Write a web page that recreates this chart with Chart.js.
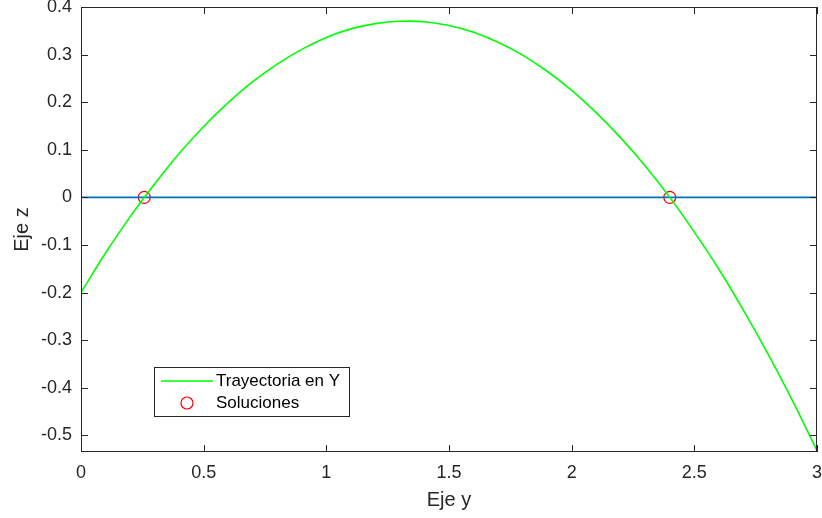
<!DOCTYPE html>
<html>
<head>
<meta charset="utf-8">
<script src="https://cdn.jsdelivr.net/npm/chart.js@4"></script>
<style>
  body { margin: 0; background: #fff; }
  #wrap { width: 822px; height: 518px; }
</style>
</head>
<body>
<div id="wrap"><canvas id="chart"></canvas></div>
<script>
// values
const ejeY = [0, 0.1, 0.2, 0.3, 0.4, 0.5, 0.6, 0.7, 0.8, 0.9, 1.0, 1.1, 1.2, 1.3, 1.4, 1.5,
    1.6, 1.7, 1.8, 1.9, 2.0, 2.1, 2.2, 2.3, 2.4, 2.5, 2.6, 2.7, 2.8, 2.9, 3.0]
const trayectoria = [-0.200, -0.117, -0.041, 0.028, 0.092, 0.149, 0.199, 0.243, 0.280, 0.311, 0.336,
    0.354, 0.365, 0.370, 0.369, 0.361, 0.347, 0.326, 0.299, 0.265, 0.225, 0.178, 0.125, 0.066,
    0.000, -0.073, -0.151, -0.237, -0.329, -0.427, -0.532]
const solY = [0.258, 2.40]
const solZ = [0, 0]
const cero = [[0, 0], [3, 0]]
const xTicks = [0, 0.5, 1, 1.5, 2, 2.5, 3]
const yTicks = [-0.5, -0.4, -0.3, -0.2, -0.1, 0, 0.1, 0.2, 0.3, 0.4]

const ctx = document.getElementById('chart').getContext('2d')

Chart.defaults.font.family = '"Liberation Sans", Arial, sans-serif'
Chart.defaults.font.size = 18
Chart.defaults.color = '#262626'

const axisColor = '#262626'

// box, inward ticks on all four sides, legend drawn in the corner
const matlabBox = {
    id: 'matlabBox',
    afterDatasetsDraw(chart) {
        const { ctx, chartArea: a, scales } = chart
        ctx.save()
        ctx.strokeStyle = axisColor
        ctx.lineWidth = 1
        ctx.strokeRect(a.left + 0.5, a.top + 0.5, a.right - a.left - 1, a.bottom - a.top - 1)
        const len = 7
        ctx.beginPath()
        for (const v of xTicks) {
            const px = Math.round(scales.x.getPixelForValue(v)) + 0.5
            ctx.moveTo(px, a.bottom); ctx.lineTo(px, a.bottom - len)
            ctx.moveTo(px, a.top); ctx.lineTo(px, a.top + len)
        }
        for (const v of yTicks) {
            const py = Math.round(scales.y.getPixelForValue(v)) + 0.5
            ctx.moveTo(a.left, py); ctx.lineTo(a.left + len, py)
            ctx.moveTo(a.right, py); ctx.lineTo(a.right - len, py)
        }
        ctx.stroke()

        // legend
        const lx = a.left + 73, ly = a.top + 360, lw = 195, lh = 49
        ctx.fillStyle = '#fff'
        ctx.fillRect(lx, ly, lw, lh)
        ctx.strokeStyle = axisColor
        ctx.strokeRect(lx + 0.5, ly + 0.5, lw, lh)
        ctx.strokeStyle = '#00ff00'
        ctx.lineWidth = 1.6
        ctx.beginPath()
        ctx.moveTo(lx + 7, ly + 14); ctx.lineTo(lx + 59, ly + 14)
        ctx.stroke()
        ctx.strokeStyle = '#ff0000'
        ctx.lineWidth = 1.2
        ctx.beginPath()
        ctx.arc(lx + 33, ly + 36, 6, 0, Math.PI * 2)
        ctx.stroke()
        ctx.fillStyle = '#000'
        ctx.font = '17px "Liberation Sans", Arial, sans-serif'
        ctx.textBaseline = 'middle'
        ctx.fillText('Trayectoria en Y', lx + 62, ly + 14)
        ctx.fillText('Soluciones', lx + 62, ly + 36)
        ctx.restore()
    }
}

const chart = new Chart(ctx, {
    type: 'scatter',
    data: {
        datasets: [{
            label: 'Trayectoria en Y',
            type: 'line',
            data: ejeY.map((y, i) => ({ x: y, y: trayectoria[i] })),
            borderColor: '#00ff00',
            borderWidth: 1.6,
            pointRadius: 0,
            tension: 0.3,
            fill: false,
        }, {
            label: 'cero',
            type: 'line',
            data: cero.map(p => ({ x: p[0], y: p[1] })),
            borderColor: '#0072bd',
            borderWidth: 1.6,
            pointRadius: 0,
            fill: false,
        }, {
            label: 'Soluciones',
            data: solY.map((y, i) => ({ x: y, y: solZ[i] })),
            borderColor: '#ff0000',
            backgroundColor: 'rgba(0,0,0,0)',
            borderWidth: 1.2,
            pointRadius: 6,
            pointStyle: 'circle',
        }]
    },
    options: {
        responsive: true,
        maintainAspectRatio: false,
        animation: false,
        events: [],
        layout: { autoPadding: false, padding: { top: 7, right: 5, left: 0, bottom: 0 } },
        plugins: { legend: { display: false }, tooltip: { enabled: false } },
        scales: {
            x: {
                type: 'linear',
                min: 0,
                max: 3,
                afterBuildTicks: s => { s.ticks = xTicks.map(v => ({ value: v })) },
                afterFit: s => { s.height = 66; s.paddingLeft = 0; s.paddingRight = 0 },
                grid: { display: false, drawTicks: false },
                border: { display: false },
                ticks: {
                    padding: 10,
                    maxRotation: 0,
                    callback: v => String(+v.toFixed(1)),
                },
                title: {
                    display: true,
                    text: 'Eje y',
                    font: { size: 20 },
                    padding: { top: 0, bottom: 6 },
                },
            },
            y: {
                type: 'linear',
                min: -0.535,
                max: 0.4,
                afterBuildTicks: s => { s.ticks = yTicks.map(v => ({ value: v })) },
                afterFit: s => { s.width = 81; s.paddingTop = 0; s.paddingBottom = 0 },
                grid: { display: false, drawTicks: false },
                border: { display: false },
                ticks: {
                    padding: 9,
                    callback: v => String(+v.toFixed(1)),
                },
                title: {
                    display: true,
                    text: 'Eje z',
                    font: { size: 20 },
                    padding: { top: 10, bottom: 0 },
                },
            }
        }
    },
    plugins: [matlabBox]
})
</script>
</body>
</html>
